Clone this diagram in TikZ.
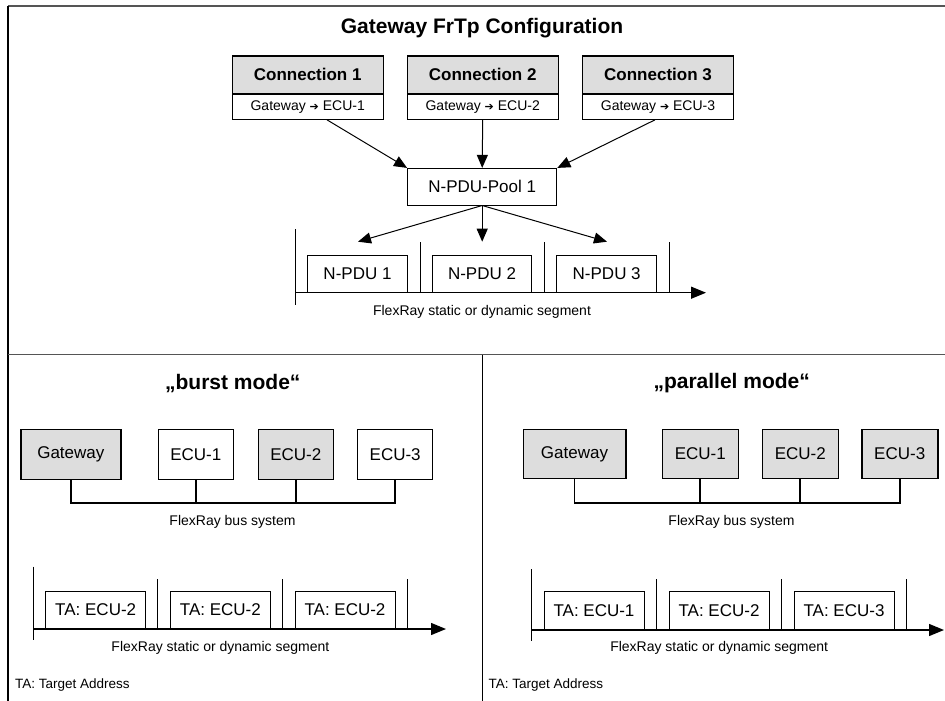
\documentclass[tikz,border=0pt]{standalone}
\usepackage{fontspec}
\setmainfont{Liberation Sans}
\newfontfamily\dejavu{DejaVu Sans}
\usetikzlibrary{arrows.meta,calc}
\definecolor{boxgray}{HTML}{DDDDDD}
\definecolor{framegray}{HTML}{555555}
\tikzset{
  box/.style={draw, line width=0.9pt, inner sep=0pt, font=\fontsize{17}{20}\selectfont},
  graybox/.style={box, fill=boxgray, line width=1.6pt},
  connhead/.style={draw, line width=1.2pt, fill=boxgray, inner sep=0pt, minimum width=151pt, minimum height=37.3pt, font=\bfseries\fontsize{17}{20}\selectfont},
  connbody/.style={draw, line width=1.2pt, fill=white, inner sep=0pt, minimum width=151pt, minimum height=24.7pt, font=\fontsize{14}{16}\selectfont},
  title/.style={font=\bfseries\fontsize{21}{24}\selectfont, inner sep=0pt},
  small/.style={font=\fontsize{14}{16}\selectfont, inner sep=0pt},
  arr/.style={line width=1pt, -{Triangle[length=13pt,width=11pt]}},
  axisline/.style={line width=1.3pt, -{Triangle[length=15pt,width=12pt]}},
  tick/.style={line width=1pt},
  busline/.style={line width=1.8pt},
  frameline/.style={line width=1.5pt, framegray},
}
\newcommand{\garrow}{{\dejavu\fontsize{11}{12}\selectfont ➔}}
\begin{document}
\begin{tikzpicture}[x=1pt,y=-1pt]
\useasboundingbox (0,0) rectangle (945,701);
% frame
\draw[frameline] (8,6) -- (945,6);
\draw[line width=1.5pt] (8,6) -- (8,701);
\draw[frameline] (8,354.5) -- (945,354.5);
\draw[line width=1.5pt] (482.3,354.5) -- (482.3,701);

% ===== top panel =====
\node[title] (ttop) at (482,28) {Gateway FrTp Configuration};
\node[connhead] (c1h) at (307.7,74.7) {Connection 1};
\node[connbody, anchor=north] (c1b) at (c1h.south) {Gateway \garrow{} ECU-1};
\node[connhead] (c2h) at (482.7,74.7) {Connection 2};
\node[connbody, anchor=north] (c2b) at (c2h.south) {Gateway \garrow{} ECU-2};
\node[connhead] (c3h) at (658,74.7) {Connection 3};
\node[connbody, anchor=north] (c3b) at (c3h.south) {Gateway \garrow{} ECU-3};

\node[box, minimum width=149.4pt, minimum height=36.7pt] (pool) at (482.2,186.7) {N-PDU-Pool 1};

\draw[arr] ([xshift=19.3pt]c1b.south) -- (pool.north west);
\draw[arr] (c2b.south) -- (pool.north);
\draw[arr] ([xshift=-3pt]c3b.south) -- (pool.north east);

\coordinate (p1) at (358,241.7);
\coordinate (p2) at (482.2,241.7);
\coordinate (p3) at (607,241.7);
\draw[arr] (pool.south) -- (p1);
\draw[arr] (pool.south) -- (p2);
\draw[arr] (pool.south) -- (p3);

% top timeline
\draw[tick] (295,229) -- (295,305);
\draw[axisline] (295,292.7) -- (706,292.7);
\foreach \xx in {420,544.3,669} \draw[tick] (\xx,242.3) -- (\xx,292.7);
\node[box, minimum width=99.6pt, minimum height=37.7pt] (n1) at (357.5,273.85) {N-PDU 1};
\node[box, minimum width=99.4pt, minimum height=37.7pt] (n2) at (482,273.85) {N-PDU 2};
\node[box, minimum width=100pt, minimum height=37.7pt] (n3) at (606.7,273.85) {N-PDU 3};
\node[small] (seg0) at (482,311.7) {FlexRay static or dynamic segment};

% ===== bottom left: burst mode =====
\node[title] (tburst) at (232.8,383.3) {„burst mode“};
\node[graybox, minimum width=99.7pt, minimum height=50pt] (gw1) at (70.85,454.3) {Gateway};
\node[box, minimum width=75pt, minimum height=50pt] (e11) at (195.8,454.3) {ECU-1};
\node[graybox, minimum width=75pt, minimum height=50pt] (e12) at (295.8,454.3) {ECU-2};
\node[box, minimum width=75pt, minimum height=50pt] (e13) at (395.2,454.3) {ECU-3};
\coordinate (busl) at (0,503.3);
\draw[busline] (gw1.south) -- (gw1.south |- busl) -- (e13.south |- busl) -- (e13.south);
\draw[busline] (e11.south) -- (e11.south |- busl);
\draw[busline] (e12.south) -- (e12.south |- busl);
\node[small] (busLlab) at (232.5,522) {FlexRay bus system};

\draw[tick] (33.3,566.7) -- (33.3,640);
\draw[axisline] (33.3,629) -- (446,629);
\foreach \xx in {157.7,282.7,407.3} \draw[tick] (\xx,579.3) -- (\xx,629);
\node[box, minimum width=100pt, minimum height=38pt] (ta11) at (95.7,610) {TA: ECU-2};
\node[box, minimum width=99.3pt, minimum height=38pt] (ta12) at (220.35,610) {TA: ECU-2};
\node[box, minimum width=100pt, minimum height=38pt] (ta13) at (345,610) {TA: ECU-2};
\node[small] (seg1) at (220.4,647.7) {FlexRay static or dynamic segment};
\node[small, anchor=west, font=\fontsize{13.5}{16}\selectfont] (note1) at (15,685) {TA: Target Address};

% ===== bottom right: parallel mode =====
\node[title] (tpar) at (731.7,383.3) {„parallel mode“};
\node[graybox, minimum width=102.4pt, minimum height=49pt] (gw2) at (574.5,454) {Gateway};
\node[graybox, minimum width=76pt, minimum height=49pt] (e21) at (700.3,454) {ECU-1};
\node[graybox, minimum width=76pt, minimum height=49pt] (e22) at (800.3,454) {ECU-2};
\node[graybox, minimum width=76pt, minimum height=49pt] (e23) at (899.7,454) {ECU-3};
\coordinate (busr) at (0,503.3);
\draw[busline] (gw2.south) -- (gw2.south |- busr) -- (e23.south |- busr) -- (e23.south);
\draw[busline] (e21.south) -- (e21.south |- busr);
\draw[busline] (e22.south) -- (e22.south |- busr);
\node[small] (busRlab) at (731.5,522) {FlexRay bus system};

\draw[tick] (531.7,569.3) -- (531.7,640.7);
\draw[axisline] (531.7,630) -- (944,630);
\foreach \xx in {656.7,781.7,906} \draw[tick] (\xx,579.3) -- (\xx,630);
\node[box, minimum width=100pt, minimum height=38.3pt] (ta21) at (594,610.85) {TA: ECU-1};
\node[box, minimum width=100pt, minimum height=38.3pt] (ta22) at (719,610.85) {TA: ECU-2};
\node[box, minimum width=100pt, minimum height=38.3pt] (ta23) at (844,610.85) {TA: ECU-3};
\node[small] (seg2) at (719.2,647.7) {FlexRay static or dynamic segment};
\node[small, anchor=west, font=\fontsize{13.5}{16}\selectfont] (note2) at (488.3,685) {TA: Target Address};
\end{tikzpicture}
\end{document}
